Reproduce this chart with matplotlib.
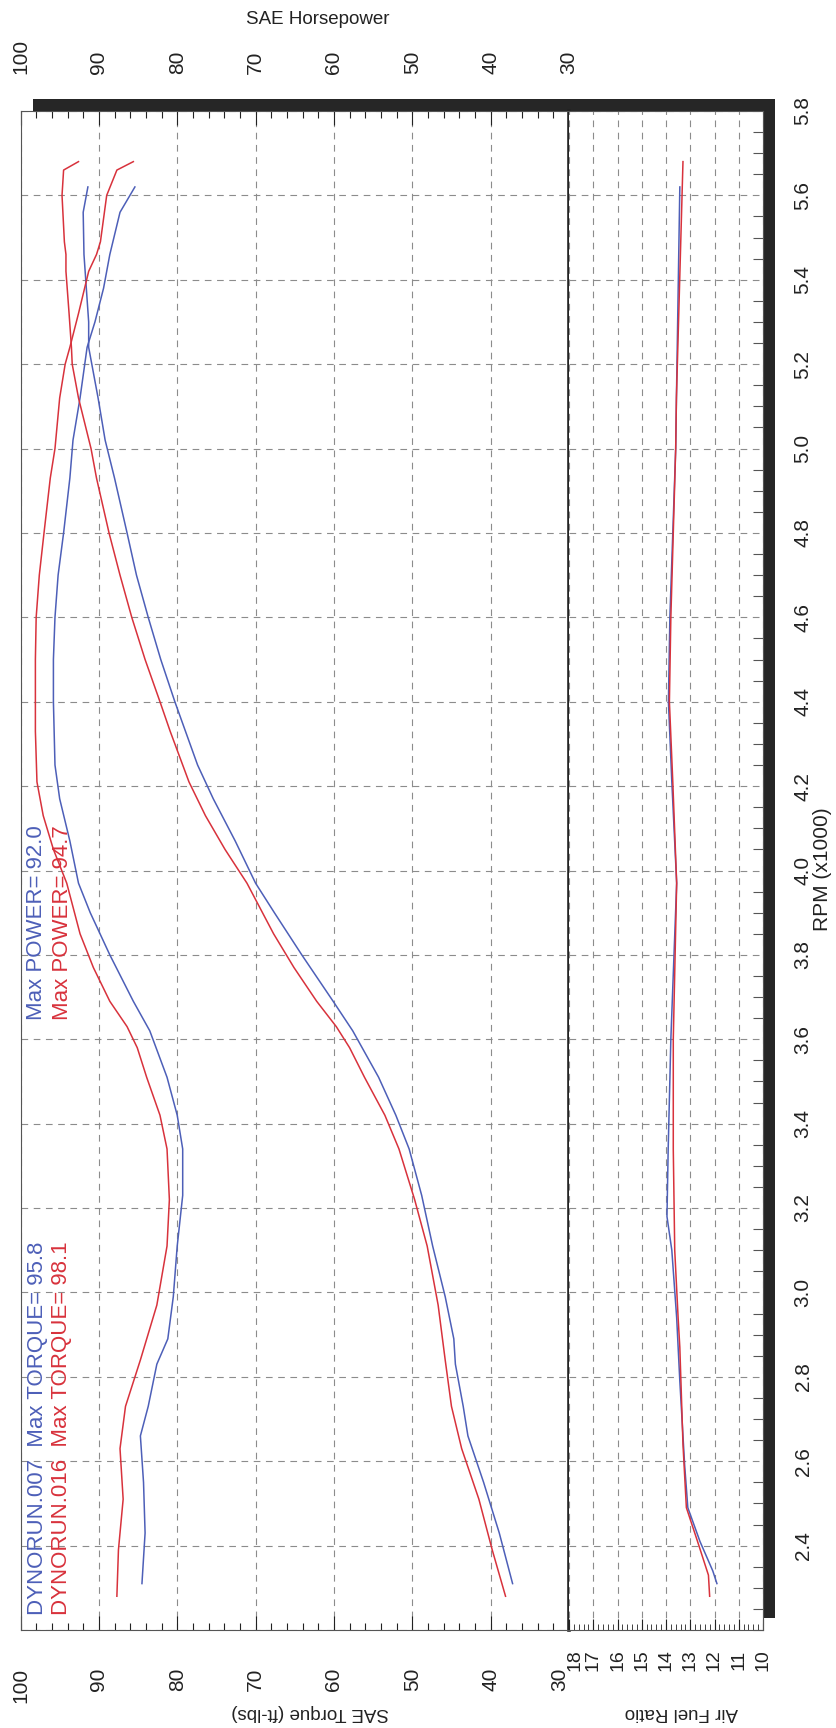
import matplotlib
matplotlib.use("Agg")
import matplotlib.pyplot as plt
from matplotlib.patches import Rectangle
from matplotlib.ticker import MultipleLocator
from matplotlib.transforms import ScaledTranslation

# DYNORUN.007 (blue)
rpm_007 = [2.31, 2.43, 2.55, 2.66, 2.73, 2.83, 2.89, 2.99, 3.11, 3.23,
           3.34, 3.42, 3.51, 3.62, 3.69, 3.80, 3.90, 3.97, 4.07, 4.17,
           4.25, 4.40, 4.50, 4.60, 4.70, 4.80, 4.93, 5.02, 5.12, 5.24,
           5.30, 5.38, 5.46, 5.56, 5.62]
torque_007 = [84.5, 84.1, 84.3, 84.7, 83.7, 82.6, 81.2, 80.5, 80.0, 79.3,
              79.3, 80.0, 81.3, 83.5, 85.6, 88.6, 91.1, 92.6, 93.7, 95.0,
              95.6, 95.8, 95.8, 95.6, 95.2, 94.5, 93.7, 93.3, 92.4, 91.5,
              90.5, 89.4, 88.6, 87.3, 85.4]
hp_007 = [37.2, 38.9, 40.9, 42.9, 43.5, 44.5, 44.7, 45.8, 47.4, 48.8,
          50.4, 52.1, 54.3, 57.6, 60.1, 64.1, 67.6, 70.0, 72.6, 75.4,
          77.4, 80.3, 82.1, 83.7, 85.2, 86.4, 88.0, 89.2, 90.1, 91.3,
          91.3, 91.6, 91.9, 92.0, 91.4]

# DYNORUN.016 (red)
rpm_016 = [2.28, 2.39, 2.51, 2.63, 2.73, 2.84, 2.97, 3.11, 3.22, 3.34,
           3.42, 3.51, 3.58, 3.63, 3.69, 3.77, 3.85, 3.97, 4.05, 4.13,
           4.21, 4.33, 4.40, 4.50, 4.60, 4.70, 4.80, 4.93, 5.00, 5.12,
           5.20, 5.24, 5.32, 5.42, 5.46, 5.49, 5.60, 5.66, 5.68]
torque_016 = [87.7, 87.5, 86.9, 87.3, 86.6, 84.7, 82.6, 81.3, 81.0, 81.3,
              82.2, 83.9, 85.1, 86.4, 88.6, 90.7, 92.4, 94.1, 95.8, 97.1,
              97.9, 98.1, 98.1, 98.1, 98.0, 97.6, 97.0, 96.2, 95.6, 95.0,
              94.3, 93.7, 92.6, 91.3, 90.3, 89.8, 89.0, 87.7, 85.6]
hp_016 = [38.1, 39.8, 41.5, 43.7, 45.0, 45.8, 46.7, 48.1, 49.7, 51.7,
          53.5, 56.1, 58.0, 59.7, 62.2, 65.1, 67.7, 71.1, 73.9, 76.4,
          78.5, 80.9, 82.2, 84.1, 85.8, 87.3, 88.7, 90.3, 91.0, 92.6,
          93.4, 93.5, 93.8, 94.2, 94.2, 94.4, 94.7, 94.5, 92.6]

# air fuel ratio
afr_rpm_007 = [2.31, 2.34, 2.41, 2.49, 2.59, 2.79, 2.94, 3.10, 3.18, 3.34,
               3.60, 3.97, 4.21, 4.40, 4.60, 5.00, 5.12, 5.62]
afr_007 = [11.9, 12.07, 12.6, 13.1, 13.23, 13.43, 13.56, 13.76, 13.96, 13.91,
           13.8, 13.56, 13.76, 13.9, 13.84, 13.6, 13.57, 13.43]
afr_rpm_016 = [2.28, 2.33, 2.41, 2.49, 2.64, 2.87, 2.94, 3.10, 3.34, 3.60,
               3.97, 4.21, 4.40, 4.60, 5.00, 5.12, 5.68]
afr_016 = [12.2, 12.25, 12.7, 13.16, 13.3, 13.43, 13.5, 13.64, 13.7, 13.7,
           13.56, 13.72, 13.86, 13.8, 13.6, 13.57, 13.3]

runs = ["DYNORUN.007", "DYNORUN.016"]
max_torque = [95.8, 98.1]
max_power = [92.0, 94.7]

BLUE = "#4d5fb8"
RED = "#d8323c"
INK = "#222222"
GRID = "#8c8c8c"
FONT = ["Liberation Sans", "DejaVu Sans"]

W, H = 836, 1728
plt.rcParams["font.family"] = FONT


def fx(px):
    return px / W


def fy(py):
    return 1 - py / H


fig = plt.figure(figsize=(W / 100, H / 100), dpi=100)

x_left, x_div, x_right = 20.5, 569, 763
y_top, y_bot = 111, 1630

ax = fig.add_axes([fx(x_left), fy(y_bot), fx(x_div - x_left), (y_bot - y_top) / H])
ax2 = fig.add_axes([fx(x_div), fy(y_bot), fx(x_right - x_div), (y_bot - y_top) / H])

# drop shadow of the plot frame (shows on top and right)
fig.patches.append(Rectangle((fx(x_left + 12), fy(y_bot - 12)), fx(x_right - x_left), (y_bot - y_top) / H,
                             transform=fig.transFigure, facecolor="#262626", edgecolor="none", zorder=-1))

for a in (ax, ax2):
    a.set_ylim(2.2, 5.8)
    a.yaxis.set_major_locator(MultipleLocator(0.2))
    a.yaxis.set_minor_locator(MultipleLocator(0.05))
    a.grid(which="major", linestyle=(0, (6, 5)), color=GRID, linewidth=0.8)
    for s in a.spines.values():
        s.set_color("#555555")
        s.set_linewidth(0.8)

# torque / horsepower panel
ax.set_xlim(100, 30)
ax.xaxis.set_major_locator(MultipleLocator(10))
ax.xaxis.set_minor_locator(MultipleLocator(2))
ax.tick_params(axis="x", which="both", direction="in", top=True, labeltop=True, bottom=True, labelbottom=True,
               labelsize=15, labelrotation=90, colors=INK)
ax.tick_params(axis="x", which="major", length=10, pad=14, width=0.8)
ax.tick_params(axis="x", which="minor", length=5, width=0.8)
ax.tick_params(axis="x", which="major", top=True, pad=27)
ax.tick_params(axis="y", which="both", left=False, right=False, labelleft=False)
ax.spines["right"].set_color(INK)
ax.spines["right"].set_linewidth(2.6)

ax.plot(torque_007, rpm_007, color=BLUE, lw=1.1)
ax.plot(hp_007, rpm_007, color=BLUE, lw=1.1)
ax.plot(torque_016, rpm_016, color=RED, lw=1.1)
ax.plot(hp_016, rpm_016, color=RED, lw=1.1)

# air fuel ratio panel
ax2.set_xlim(18, 10)
ax2.xaxis.set_major_locator(MultipleLocator(1))
ax2.xaxis.set_minor_locator(MultipleLocator(0.2))
ax2.tick_params(axis="x", which="both", direction="in", colors=INK, labelsize=14, labelrotation=90)
ax2.tick_params(axis="x", which="major", length=8, pad=14, width=0.8)
ax2.tick_params(axis="x", which="minor", length=4, width=0.6)
ax2.spines["left"].set_visible(False)
ax2.yaxis.set_ticks_position("right")
ax2.tick_params(axis="y", which="major", length=0, pad=22, labelsize=15, labelrotation=90, colors=INK)
ax2.tick_params(axis="y", which="minor", direction="in", length=7, width=0.8, color="#555555")
ax2.set_yticks([2.4 + 0.2 * i for i in range(18)])
ax2.set_yticklabels(["%.1f" % (2.4 + 0.2 * i) for i in range(18)], va="center")
ax2.set_ylim(2.2, 5.8)

ax2.plot(afr_007, afr_rpm_007, color=BLUE, lw=1.1)
ax2.plot(afr_016, afr_rpm_016, color=RED, lw=1.1)

# the "30" and "18" labels share the divider, nudge them apart
fig.canvas.draw()
for tick in ax.xaxis.get_major_ticks():
    if abs(tick.get_loc() - 30) < 1e-6:
        tick.label1.set_transform(tick.label1.get_transform() + ScaledTranslation(-0.09, 0, fig.dpi_scale_trans))
for tick in ax2.xaxis.get_major_ticks():
    if abs(tick.get_loc() - 18) < 1e-6:
        tick.label1.set_transform(tick.label1.get_transform() + ScaledTranslation(0.06, 0, fig.dpi_scale_trans))

# run annotations
ax.text(97.8, 2.236, runs[0] + "  Max TORQUE= %.1f" % max_torque[0], color=BLUE, fontsize=16,
        rotation=90, ha="center", va="bottom")
ax.text(94.8, 2.236, runs[1] + "  Max TORQUE= %.1f" % max_torque[1], color=RED, fontsize=16,
        rotation=90, ha="center", va="bottom")
ax.text(98.0, 3.646, "Max POWER= %.1f" % max_power[0], color=BLUE, fontsize=16,
        rotation=90, ha="center", va="bottom")
ax.text(94.7, 3.646, "Max POWER= %.1f" % max_power[1], color=RED, fontsize=16,
        rotation=90, ha="center", va="bottom")

# axis titles
fig.text(fx(318), fy(20), "SAE Horsepower", ha="center", va="center", fontsize=13.5, color=INK)
fig.text(fx(310), fy(1713), "SAE Torque (ft-lbs)", ha="center", va="center", fontsize=13.5,
         rotation=180, color=INK)
fig.text(fx(681), fy(1713), "Air Fuel Ratio", ha="center", va="center", fontsize=13.5,
         rotation=180, color=INK)
fig.text(fx(822), fy(869), "RPM (x1000)", ha="center", va="center", fontsize=15,
         rotation=90, color=INK)

fig.savefig("out.png", dpi=100)
